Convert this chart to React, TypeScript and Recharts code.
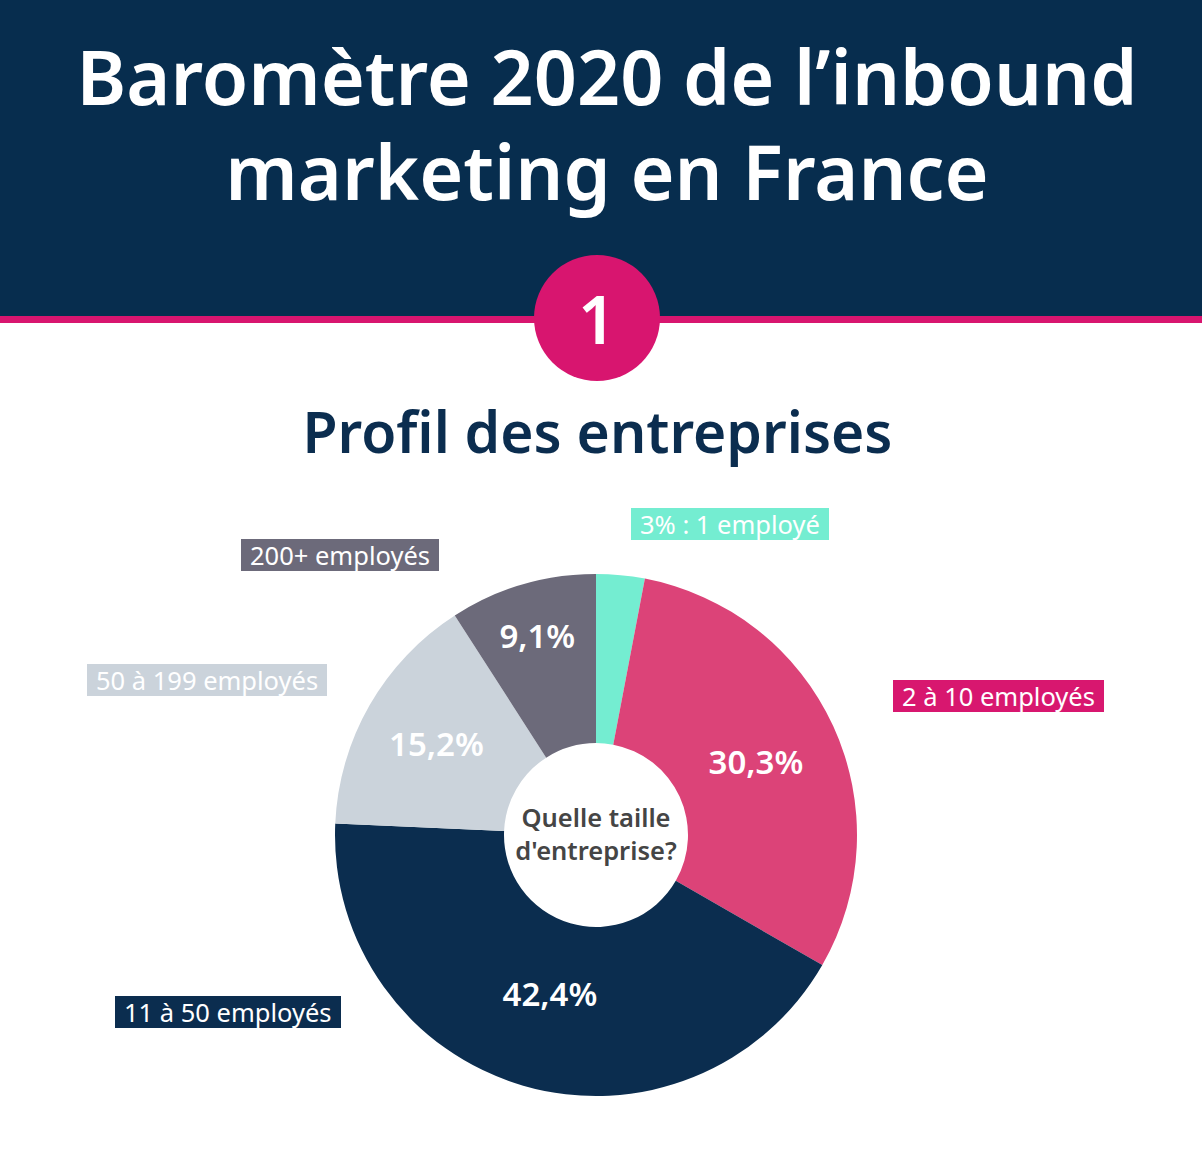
import { PieChart, Pie, Cell } from 'recharts';

const categories = ['1 employé', '2 à 10 employés', '11 à 50 employés', '50 à 199 employés', '200+ employés'];
const shares = [3, 30.3, 42.4, 15.2, 9.1];
const valueLabels = ['', '30,3%', '42,4%', '15,2%', '9,1%'];
const boxLabels = ['3% : 1 employé', '2 à 10 employés', '11 à 50 employés', '50 à 199 employés', '200+ employés'];

const COLORS = ['#74edd1', '#dc4378', '#0b2d4f', '#cbd3db', '#6c6a7a'];
const BOX_BG = ['#74edd1', '#d8176f', '#0b2d4f', '#cbd3db', '#6c6a7a'];
// label box placement (left, top) in page px
const BOX_POS: [number, number][] = [
  [631, 508],
  [893, 680],
  [115, 996],
  [87, 664],
  [241, 539],
];
const LABEL_R = [0, 176, 165, 184, 208];

const FONT = '"Noto Sans", "Open Sans", sans-serif';
const NAVY = '#072d4e';
const PINK = '#d8156f';

const data = categories.map((name, i) => ({ name, value: shares[i], label: valueLabels[i] }));

const RAD = Math.PI / 180;

function renderValue(props: any) {
  const { cx, cy, midAngle, index } = props;
  const text = valueLabels[index];
  if (!text) return null;
  const r = LABEL_R[index];
  const x = cx + r * Math.cos(-midAngle * RAD);
  const y = cy + r * Math.sin(-midAngle * RAD);
  return (
    <text
      x={x}
      y={y}
      fill="#ffffff"
      textAnchor="middle"
      dominantBaseline="central"
      style={{ fontFamily: FONT, fontSize: 33, fontWeight: 600 }}
    >
      {text}
    </text>
  );
}

export default function App() {
  return (
    <div
      style={{
        position: 'absolute',
        left: 0,
        top: 0,
        width: 1202,
        height: 1164,
        background: '#ffffff',
        overflow: 'hidden',
        fontFamily: FONT,
      }}
    >
      <div style={{ position: 'absolute', left: 0, top: 0, width: 1202, height: 317, background: NAVY }} />
      <div style={{ position: 'absolute', left: 0, top: 316, width: 1202, height: 7, background: PINK }} />
      <div
        style={{
          position: 'absolute',
          left: 0,
          top: 28,
          width: 1214,
          textAlign: 'center',
          color: '#ffffff',
          fontSize: 75.5,
          fontWeight: 600,
          lineHeight: '95px',
        }}
      >
        Baromètre 2020 de l’inbound
        <br />
        marketing en France
      </div>
      <div
        style={{
          position: 'absolute',
          left: 534,
          top: 255,
          width: 126,
          height: 126,
          borderRadius: '50%',
          background: PINK,
          color: '#ffffff',
          fontSize: 66,
          fontWeight: 600,
          lineHeight: '126px',
          textAlign: 'center',
        }}
      >
        1
      </div>
      <div
        style={{
          position: 'absolute',
          left: 0,
          top: 392,
          width: 1195,
          textAlign: 'center',
          color: '#0b2d4f',
          fontSize: 57,
          fontWeight: 600,
          lineHeight: '78px',
        }}
      >
        Profil des entreprises
      </div>

      <div style={{ position: 'absolute', left: 0, top: 0 }}>
        <PieChart width={1202} height={1164} margin={{ top: 0, right: 0, bottom: 0, left: 0 }}>
          <Pie
            data={data}
            dataKey="value"
            nameKey="name"
            cx={596}
            cy={835}
            innerRadius={92}
            outerRadius={261}
            startAngle={90}
            endAngle={-270}
            stroke="none"
            label={renderValue}
            labelLine={false}
            isAnimationActive={false}
          >
            {data.map((d, i) => (
              <Cell key={d.name} fill={COLORS[i]} />
            ))}
          </Pie>
        </PieChart>
      </div>

      <div
        style={{
          position: 'absolute',
          left: 486,
          top: 801,
          width: 220,
          textAlign: 'center',
          color: '#454545',
          fontSize: 25.5,
          fontWeight: 600,
          lineHeight: '33px',
        }}
      >
        Quelle taille
        <br />
        d'entreprise?
      </div>

      {boxLabels.map((t, i) => (
        <div
          key={t}
          style={{
            position: 'absolute',
            left: BOX_POS[i][0],
            top: BOX_POS[i][1],
            height: 32,
            padding: '0 9px',
            background: BOX_BG[i],
            color: '#ffffff',
            fontSize: 25.5,
            lineHeight: '32px',
            whiteSpace: 'nowrap',
          }}
        >
          {t}
        </div>
      ))}
    </div>
  );
}
